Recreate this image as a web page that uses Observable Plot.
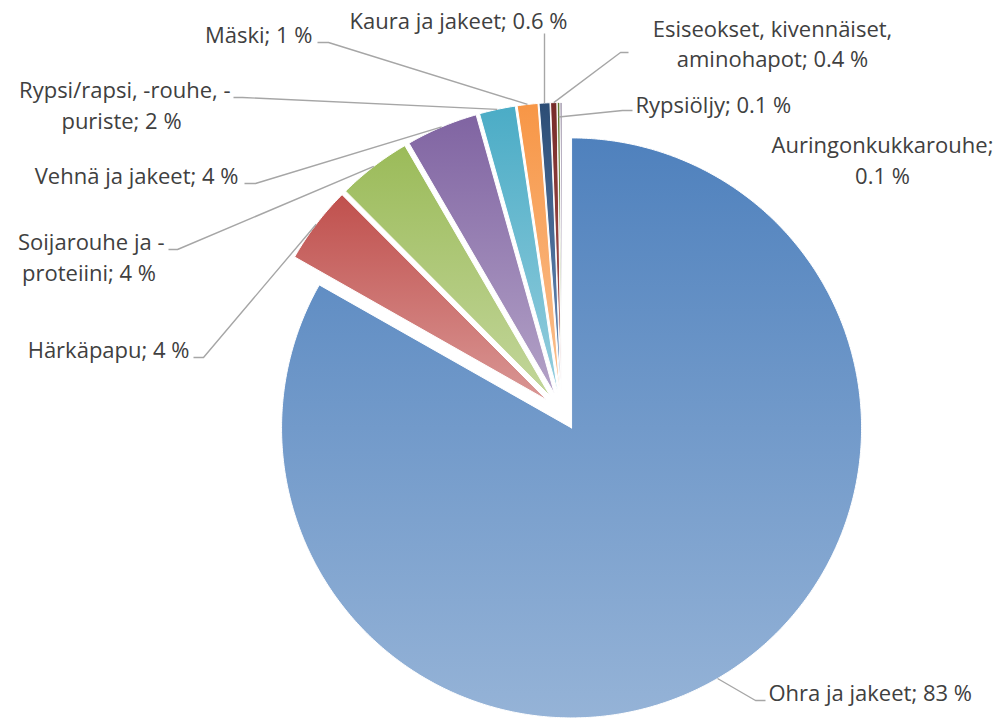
<!DOCTYPE html>
<html><head><meta charset="utf-8">
<script src="https://cdn.jsdelivr.net/npm/d3@7"></script>
<script src="https://cdn.jsdelivr.net/npm/@observablehq/plot@0.6"></script>
<style>html,body{margin:0;padding:0;background:#fff;}</style>
</head><body><div id="chart"></div>
<script>
// ---- data ----
const categories = ["Ohra ja jakeet","Härkäpapu","Soijarouhe ja -proteiini","Vehnä ja jakeet","Rypsi/rapsi, -rouhe, -puriste","Mäski","Kaura ja jakeet","Esiseokset, kivennäiset, aminohapot","Rypsiöljy","Auringonkukkarouhe"];
const values = [83.0, 4.3, 4.1, 4.0, 2.0, 1.15, 0.6, 0.35, 0.15, 0.1];
const labelLines = [
  ["Ohra ja jakeet; 83 %"],
  ["Härkäpapu; 4 %"],
  ["Soijarouhe ja -", "proteiini; 4 %"],
  ["Vehnä ja jakeet; 4 %"],
  ["Rypsi/rapsi, -rouhe, -", "puriste; 2 %"],
  ["Mäski; 1 %"],
  ["Kaura ja jakeet; 0.6 %"],
  ["Esiseokset, kivennäiset,", "aminohapot; 0.4 %"],
  ["Rypsiöljy; 0.1 %"],
  ["Auringonkukkarouhe;", "0.1 %"]
];
const topColors = ["#4F81BD","#C0504D","#9BBB59","#8064A2","#4BACC6","#F79646","#2C4D75","#772C2A","#5F7530","#4D3B62"];
const bottomColors = ["#95B3D7","#D99694","#C3D69B","#B3A2C7","#93CDDD","#FAC090","#6A8CBA","#B05A57","#8FA95A","#7E6A98"];

// ---- layout (pixels) ----
const W = 999, H = 719, cx = 561.5, cy = 411, R = 290, explodePx = 19;
const ux = px => (px - cx) / R, uy = py => (cy - py) / R;
const labelLayout = [
  {lines: [[768, 700, "start"]], leader: [[755, 700], [765, 700]]},
  {lines: [[189, 357, "end"]], leader: [[203, 357], [193, 357]]},
  {lines: [[164, 249, "end"], [88.5, 280, "middle"]], leader: [[177, 249], [168, 249]]},
  {lines: [[238, 183, "end"]], leader: [[255, 183], [244, 183]]},
  {lines: [[230, 97, "end"], [121, 128, "middle"]], leader: [[242, 97], [233, 97]]},
  {lines: [[312, 42, "end"]], leader: [[328, 42], [317, 42]]},
  {lines: [[458, 28, "middle"]], leader: [[544, 33]]},
  {lines: [[772, 36.5, "middle"], [772, 66.5, "middle"]], leader: [[620, 52], [628, 52]]},
  {lines: [[635, 112, "start"]], leader: [[622, 110], [632, 110]], r: 0.95},
  {lines: [[882, 152.5, "middle"], [882, 183.5, "middle"]], leader: null}
];

// ---- geometry from values ----
const total = d3.sum(values);
const e = explodePx / R;
let acc = 0;
const slices = values.map((v, i) => {
  const a0 = acc / total * 2 * Math.PI; acc += v;
  const a1 = acc / total * 2 * Math.PI;
  const m = (a0 + a1) / 2;
  return {i, a0, a1, m, ox: e * Math.sin(m), oy: e * Math.cos(m)};
});
const slicePts = [];
slices.forEach(s => {
  const n = Math.max(2, Math.ceil((s.a1 - s.a0) / (Math.PI / 360)));
  slicePts.push({id: s.i, x: s.ox, y: s.oy});
  for (let k = 0; k <= n; k++) {
    const a = s.a0 + (s.a1 - s.a0) * k / n;
    slicePts.push({id: s.i, x: s.ox + Math.sin(a), y: s.oy + Math.cos(a)});
  }
  slicePts.push({id: s.i, x: s.ox, y: s.oy});
});
const leaderPts = [];
const textRows = [];
labelLayout.forEach((L, i) => {
  const s = slices[i];
  if (L.leader) {
    const rf = L.r ?? 1;
    leaderPts.push({id: i, x: s.ox + rf * Math.sin(s.m), y: s.oy + rf * Math.cos(s.m)});
    L.leader.forEach(p => leaderPts.push({id: i, x: ux(p[0]), y: uy(p[1])}));
  }
  L.lines.forEach((ln, j) => textRows.push({x: ux(ln[0]), y: uy(ln[1]), anchor: ln[2], text: labelLines[i][j]}));
});

const font = "'Open Sans', 'Noto Sans', sans-serif";
const chart = Plot.plot({
  width: W, height: H, margin: 0,
  x: {domain: [ux(0), ux(W)], axis: null},
  y: {domain: [uy(H), uy(0)], axis: null},
  color: {type: "identity"},
  style: {fontFamily: font, background: "#fff"},
  marks: [
    Plot.line(slicePts, {x: "x", y: "y", z: "id", fill: d => `url(#grad${d.id})`, stroke: "#fff", strokeWidth: 1, strokeLinejoin: "miter"}),
    Plot.line(leaderPts, {x: "x", y: "y", z: "id", stroke: "#A6A6A6", strokeWidth: 1.4, strokeLinecap: "butt"}),
    ...["start", "middle", "end"].map(a =>
      Plot.text(textRows.filter(d => d.anchor === a), {x: "x", y: "y", text: "text", textAnchor: a, lineAnchor: "bottom", fontSize: 22, fill: "#404040", fontFamily: font}))
  ]
});
const defs = d3.create("svg:defs");
topColors.forEach((c, i) => {
  const g = defs.append("linearGradient").attr("id", "grad" + i).attr("x1", 0).attr("y1", 0).attr("x2", 0).attr("y2", 1);
  g.append("stop").attr("offset", "0%").attr("stop-color", c);
  g.append("stop").attr("offset", "100%").attr("stop-color", bottomColors[i]);
});
chart.insertBefore(defs.node(), chart.firstChild);
document.getElementById("chart").appendChild(chart);
</script>
</body></html>
